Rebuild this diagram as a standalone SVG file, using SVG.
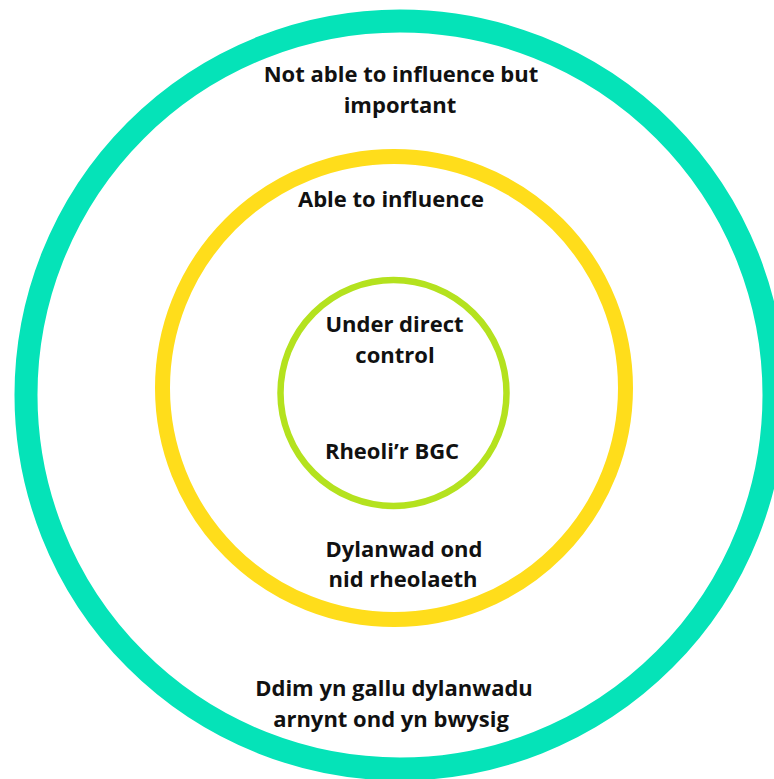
<svg xmlns="http://www.w3.org/2000/svg" width="774" height="779" viewBox="0 0 774 779">
<style>
  .ring { fill: none; }
  .lbl { font-family: "Open Sans", "Liberation Sans", sans-serif; font-weight: 700; font-size: 22px; fill: #111; text-anchor: middle; }
</style>
<rect x="0" y="0" width="774" height="779" fill="#ffffff"/>
<g id="outer">
  <circle class="ring" cx="400" cy="395" r="374" stroke="#05E3B8" stroke-width="23"/>
  <text class="lbl" x="401" y="82">Not able to influence but</text>
  <text class="lbl" x="400" y="113">important</text>
  <text class="lbl" x="394" y="696">Ddim yn gallu dylanwadu</text>
  <text class="lbl" x="391" y="727">arnynt ond yn bwysig</text>
</g>
<g id="middle">
  <circle class="ring" cx="394" cy="388" r="231.5" stroke="#FFDD1B" stroke-width="15"/>
  <text class="lbl" x="391" y="207">Able to influence</text>
  <text class="lbl" x="404" y="557">Dylanwad ond</text>
  <text class="lbl" x="403" y="587">nid rheolaeth</text>
</g>
<g id="inner">
  <circle class="ring" cx="393.5" cy="393" r="113" stroke="#B4E21E" stroke-width="6.5"/>
  <text class="lbl" x="394.5" y="332">Under direct</text>
  <text class="lbl" x="395" y="363">control</text>
  <text class="lbl" x="392" y="459">Rheoli’r BGC</text>
</g>
<g id="connectors"></g>
</svg>
